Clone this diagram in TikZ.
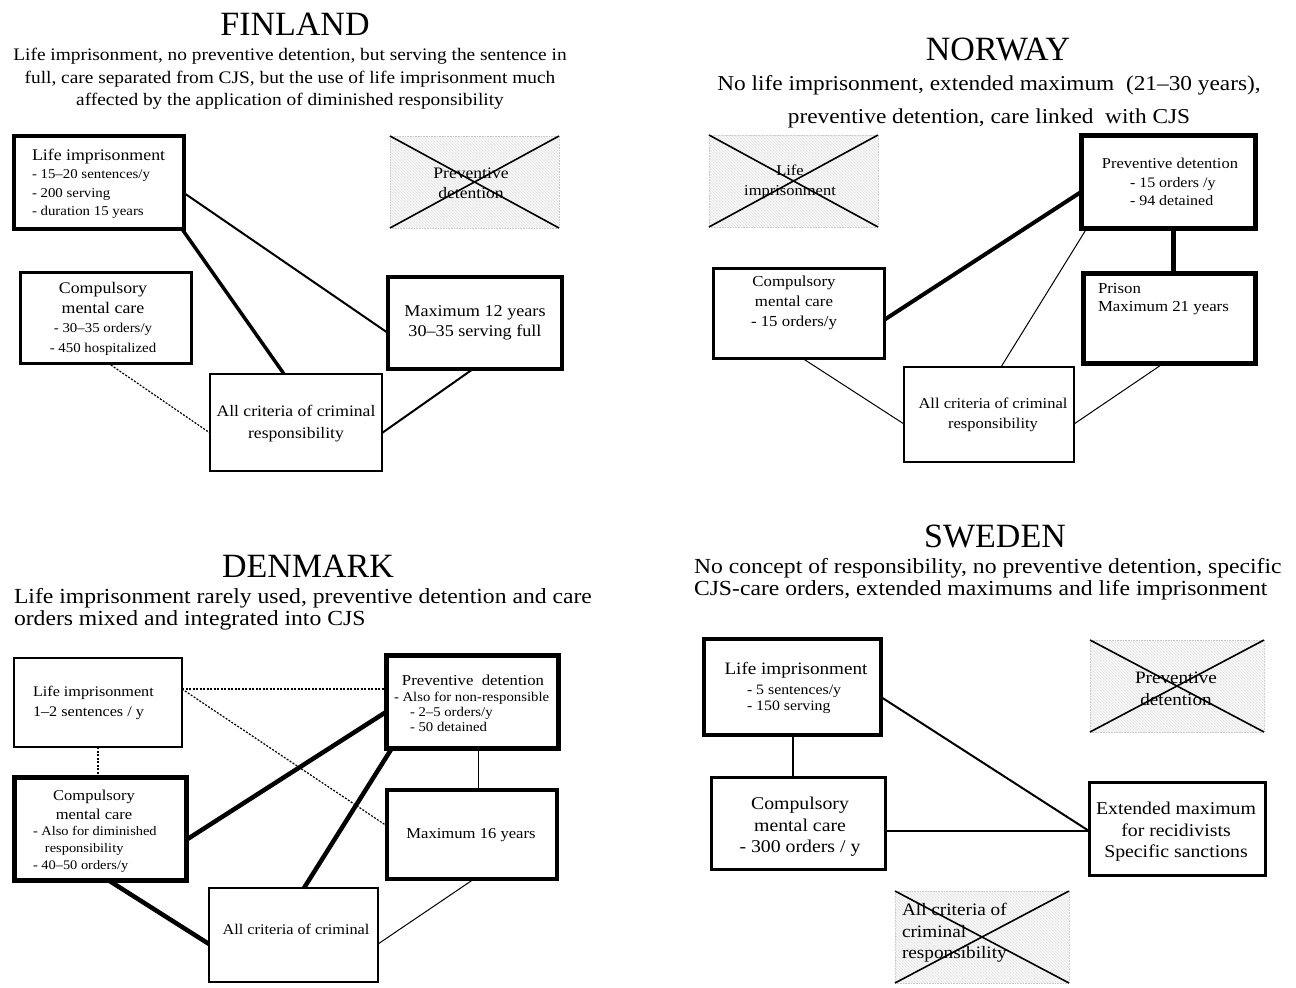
\documentclass[tikz,border=0pt]{standalone}
\usepackage{fontspec}
\setmainfont{Liberation Serif}[FakeStretch=1.1]
\newfontfamily\titlefont{Liberation Serif}
\usetikzlibrary{calc,fit,patterns}
\newcommand\fsz[2]{\fontsize{#1}{#2}\selectfont}
\begin{document}
\begin{tikzpicture}[x=1pt,y=-1pt,
  bx/.style={draw, rectangle, inner sep=0pt, outer sep=0pt},
  xbox/.style={rectangle, inner sep=0pt, outer sep=0pt, draw=gray!40, densely dotted, line width=0.6pt,
     preaction={fill=gray!7}, pattern=north west lines, pattern color=gray!30},
  xline/.style={line width=1.6pt, black},
  txt/.style={inner sep=0pt, outer sep=0pt, align=center},
  ltxt/.style={inner sep=0pt, outer sep=0pt, align=left, anchor=west},
  ttl/.style={inner sep=0pt, font=\titlefont\fsz{34}{34}},
  thinl/.style={line width=1pt},
  medl/.style={line width=2pt},
  thkl/.style={line width=4pt},
  dotl/.style={line width=1.2pt, dash pattern=on 2pt off 1.5pt}
]
\useasboundingbox[fill=white] (0,0) rectangle (1296,988);

%%%%%%%%%%%%%%%% FINLAND
\node[ttl] (ftitle) at (295,24) {FINLAND};
\node[txt, font=\fsz{17.6}{22.5}] (fsub) at (290,79) {Life imprisonment, no preventive detention, but serving the sentence in\\full, care separated from CJS, but the use of life imprisonment much\\affected by the application of diminished responsibility};

\node[bx, line width=4.5pt, fit={(14,136) (184,229)}] (flife) {};
\node[xbox, fit={(390,136) (559,228)}] (fprev) {};
\node[bx, line width=3pt, fit={(20,272) (191,363)}] (fcomp) {};
\node[bx, line width=4.5pt, fit={(388,277) (562,369)}] (fmax) {};
\node[bx, line width=2.5pt, fit={(210,374) (382,471)}] (fcrit) {};

\node[ltxt, font=\fsz{13.5}{18.5}] (flifet) at (32,184) {{\fsz{16.2}{18.5}Life imprisonment}\\- 15–20 sentences/y\\- 200 serving\\- duration 15 years};
\node[txt, font=\fsz{16}{20}] (fprevt) at (471,183) {Preventive\\detention};
\node[txt, font=\fsz{13.5}{19.5}] (fcompt) at (103,319) {{\fsz{16.2}{19.5}Compulsory}\\{\fsz{16.2}{19.5}mental care}\\- 30–35 orders/y\\- 450 hospitalized};
\node[txt, font=\fsz{16.5}{20}] (fmaxt) at (475,323) {Maximum 12 years\\30–35 serving full};
\node[txt, font=\fsz{16}{22}] (fcritt) at (296,424) {All criteria of criminal\\responsibility};
\draw[xline] (fprev.north west) -- (fprev.south east) (fprev.south west) -- (fprev.north east);

\draw[medl] ($(flife.north east)+(0,57)$) -- ($(fmax.north west)+(0,56)$);
\draw[line width=3.5pt] ($(flife.south east)+(-2,0)$) -- ($(fcrit.north west)+(74,0)$);
\draw[dotl] ($(fcomp.south west)+(88,0)$) -- ($(fcrit.north west)+(0,59)$);
\draw[medl] ($(fmax.south west)+(85,0)$) -- ($(fcrit.north east)+(0,59)$);

%%%%%%%%%%%%%%%% NORWAY
\node[ttl] (ntitle) at (998,49) {NORWAY};
\node[txt, font=\fsz{21.2}{33}] (nsub) at (989,102) {No life imprisonment, extended maximum\ \ (21–30 years),\\preventive detention, care linked\ \ with CJS};

\node[xbox, fit={(709,135) (878,227)}] (nlife) {};
\node[bx, line width=5pt, fit={(1081,135) (1255,228)}] (npre) {};
\node[bx, line width=5pt, fit={(1083,273) (1255,363)}] (nprison) {};
\node[bx, line width=3pt, fit={(713,268) (884,358)}] (ncomp) {};
\node[bx, line width=2.5pt, fit={(904,367) (1074,462)}] (ncrit) {};

\node[txt, font=\fsz{15}{20}] (nlifet) at (790,182) {Life\\imprisonment};
\node[txt, font=\fsz{15}{18}] (npret) at (1170,163) {Preventive detention};
\node[ltxt, font=\fsz{14.5}{17.5}] (npreitems) at (1130,191.5) {- 15 orders /y\\- 94 detained};
\node[ltxt, font=\fsz{15.3}{18}] (nprisont) at (1098,299) {Prison\\Maximum 21 years};
\node[txt, font=\fsz{15.3}{20}] (ncompt) at (794,303) {Compulsory\\mental care\\- 15 orders/y};
\node[txt, font=\fsz{15}{20}] (ncritt) at (993,415) {All criteria of criminal\\responsibility};
\draw[xline] (nlife.north west) -- (nlife.south east) (nlife.south west) -- (nlife.north east);

\draw[thkl] ($(ncomp.north east)+(0,52)$) -- ($(npre.north west)+(0,57)$);
\draw[line width=5pt] ($(npre.south west)+(92,0)$) -- ($(nprison.north west)+(90,0)$);
\draw[thinl] ($(npre.south west)+(6,0)$) -- ($(ncrit.north west)+(97,0)$);
\draw[thinl] ($(ncomp.south west)+(89,0)$) -- ($(ncrit.north west)+(0,57)$);
\draw[thinl] ($(nprison.south west)+(81,0)$) -- ($(ncrit.north east)+(0,57)$);

%%%%%%%%%%%%%%%% DENMARK
\node[ttl] (dtitle) at (308,566) {DENMARK};
\node[ltxt, font=\fsz{21.5}{22}] (dsub) at (14,609) {Life imprisonment rarely used, preventive detention and care\\orders mixed and integrated into CJS};

\node[bx, line width=1.5pt, fit={(14,658) (182,747)}] (dlife) {};
\node[bx, line width=5pt, fit={(386,655) (558,748)}] (dpre) {};
\node[bx, line width=5pt, fit={(14,777) (186,880)}] (dcomp) {};
\node[bx, line width=4pt, fit={(387,790) (557,879)}] (dmax) {};
\node[bx, line width=2.5pt, fit={(209,888) (378,982)}] (dcrit) {};

\node[ltxt, font=\fsz{14.7}{20}] (dlifet) at (33,703) {Life imprisonment\\1–2 sentences / y};
\node[txt, font=\fsz{15.2}{18}] (dpret) at (473,680) {Preventive\ \ detention};
\node[ltxt, font=\fsz{13.4}{15}] (dpreitems) at (394,712) {- Also for non-responsible\\\hspace*{16pt}- 2–5 orders/y\\\hspace*{16pt}- 50 detained};
\node[txt, font=\fsz{15}{19}] (dcompt) at (94,804.5) {Compulsory\\mental care};
\node[ltxt, font=\fsz{13.1}{17}] (dcompitems) at (33,849) {- Also for diminished\\\hspace*{12pt}responsibility\\- 40–50 orders/y};
\node[txt, font=\fsz{15.1}{18}] (dmaxt) at (471,835) {Maximum 16 years};
\node[txt, font=\fsz{14.8}{18}] (dcritt) at (296,929) {All criteria of criminal};

\draw[dotl] ($(dlife.north east)+(0,31)$) -- ($(dpre.north west)+(0,34)$);
\draw[dotl] ($(dlife.north east)+(0,31)$) -- ($(dmax.north west)+(0,36)$);
\draw[dotl] ($(dlife.south west)+(84,0)$) -- ($(dcomp.north west)+(84,0)$);
\draw[line width=4.5pt] ($(dcomp.north east)+(0,63)$) -- ($(dpre.north west)+(0,57)$);
\draw[line width=4.5pt] ($(dpre.south west)+(6,0)$) -- ($(dcrit.north west)+(95,0)$);
\draw[line width=4.5pt] ($(dcomp.south west)+(94,0)$) -- ($(dcrit.north west)+(0,56)$);
\draw[thinl] ($(dpre.south west)+(92,0)$) -- ($(dmax.north west)+(91,0)$);
\draw[thinl] ($(dmax.south west)+(87,0)$) -- ($(dcrit.north east)+(0,56)$);

%%%%%%%%%%%%%%%% SWEDEN
\node[ttl] (stitle) at (995,536) {SWEDEN};
\node[ltxt, font=\fsz{21.5}{22}] (ssub) at (694,579) {No concept of responsibility, no preventive detention, specific\\CJS-care orders, extended maximums and life imprisonment};

\node[bx, line width=4.5pt, fit={(704,639) (881,735)}] (slife) {};
\node[xbox, fit={(1090,640) (1264,732)}] (sprev) {};
\node[bx, line width=3pt, fit={(711,777) (885,869)}] (scomp) {};
\node[bx, line width=3pt, fit={(1089,782) (1265,875)}] (sext) {};
\node[xbox, fit={(895,891) (1069,983)}] (scrit) {};

\node[txt, font=\fsz{17.4}{20}] (slifet) at (796,670) {Life imprisonment};
\node[ltxt, font=\fsz{14.4}{16}] (slifeitems) at (747,699) {- 5 sentences/y\\- 150 serving};
\node[txt, font=\fsz{17.4}{22}] (sprevt) at (1176,689) {Preventive\\detention};
\node[txt, font=\fsz{18}{21.5}] (scompt) at (800,827) {Compulsory\\mental care\\- 300 orders / y};
\node[txt, font=\fsz{18}{21.5}] (sextt) at (1176,832) {Extended maximum\\for recidivists\\Specific sanctions};
\node[ltxt, font=\fsz{17.5}{21.5}] (scritt) at (902,933) {All criteria of\\criminal\\responsibility};
\draw[xline] (sprev.north west) -- (sprev.south east) (sprev.south west) -- (sprev.north east);
\draw[xline] (scrit.north west) -- (scrit.south east) (scrit.south west) -- (scrit.north east);

\draw[medl] ($(slife.south west)+(89,0)$) -- ($(scomp.north west)+(82,0)$);
\draw[medl] ($(slife.north east)+(0,58)$) -- ($(sext.north west)+(0,49)$);
\draw[medl] ($(scomp.north east)+(0,54)$) -- ($(sext.north west)+(0,49)$);
\end{tikzpicture}
\end{document}
